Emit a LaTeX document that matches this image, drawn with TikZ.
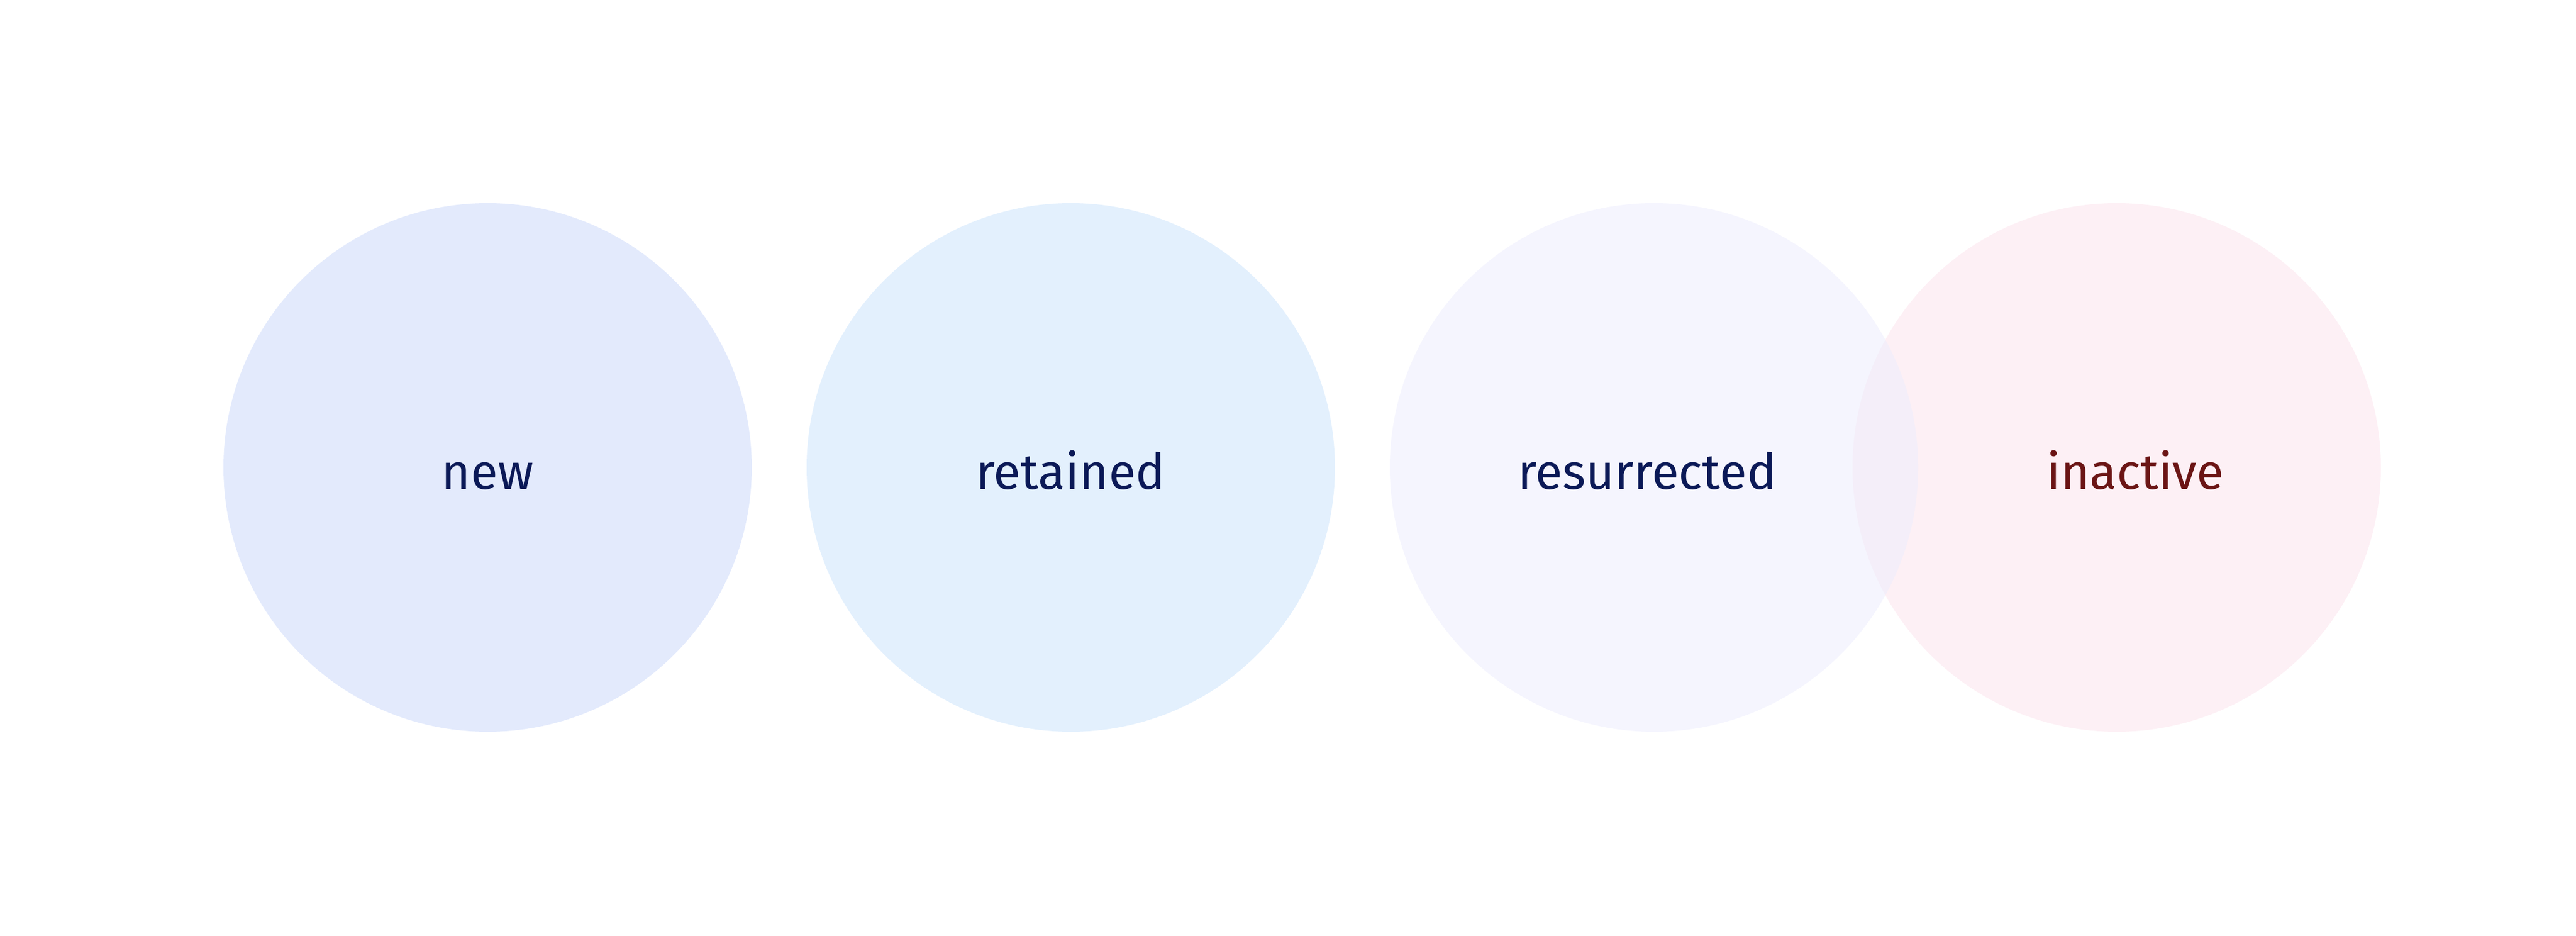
\documentclass[tikz,border=0pt]{standalone}
\usepackage{fontspec}
\setmainfont{Fira Sans}
\usepackage{tikz}
\usetikzlibrary{calc}
\definecolor{newfill}{HTML}{E3EAFC}
\definecolor{retfill}{HTML}{E3F0FD}
\definecolor{resfill}{HTML}{EEEEFD}
\definecolor{inafill}{HTML}{FDF0F5}
\definecolor{navytext}{HTML}{0B1957}
\definecolor{redtext}{HTML}{6B1515}
\tikzstyle{bubble} = [draw=none]
\tikzstyle{tag} = [inner sep=0pt, anchor=base, font=\fontsize{25}{30}\selectfont]

\begin{document}
\begin{tikzpicture}
            \useasboundingbox (0,0) rectangle (45.54,16.53);
            % circle centres
            \coordinate (N) at (8.62,8.27);
            \coordinate (R) at (18.93,8.27);
            \coordinate (S) at (29.24,8.27);
            \coordinate (I) at (37.42,8.27);

            % circles
            \fill[bubble,newfill] (N) circle (4.67);
            \fill[bubble,retfill] (R) circle (4.67);
            \fill[bubble,inafill] (I) circle (4.67);
            \fill[bubble,resfill,fill opacity=0.6] (S) circle (4.67);

            % labels, set on a common baseline
            \node[tag,text=navytext] (new) at ($(N)+(0,-0.38)$) {new};
            \node[tag,text=navytext] (retained) at ($(R)+(0,-0.38)$) {retained};
            \node[tag,text=navytext] (resurrected) at ($(S)+(-0.12,-0.38)$) {resurrected};
            \node[tag,text=redtext] (inactive) at ($(I)+(0.33,-0.38)$) {inactive};
        \end{tikzpicture}
\end{document}
